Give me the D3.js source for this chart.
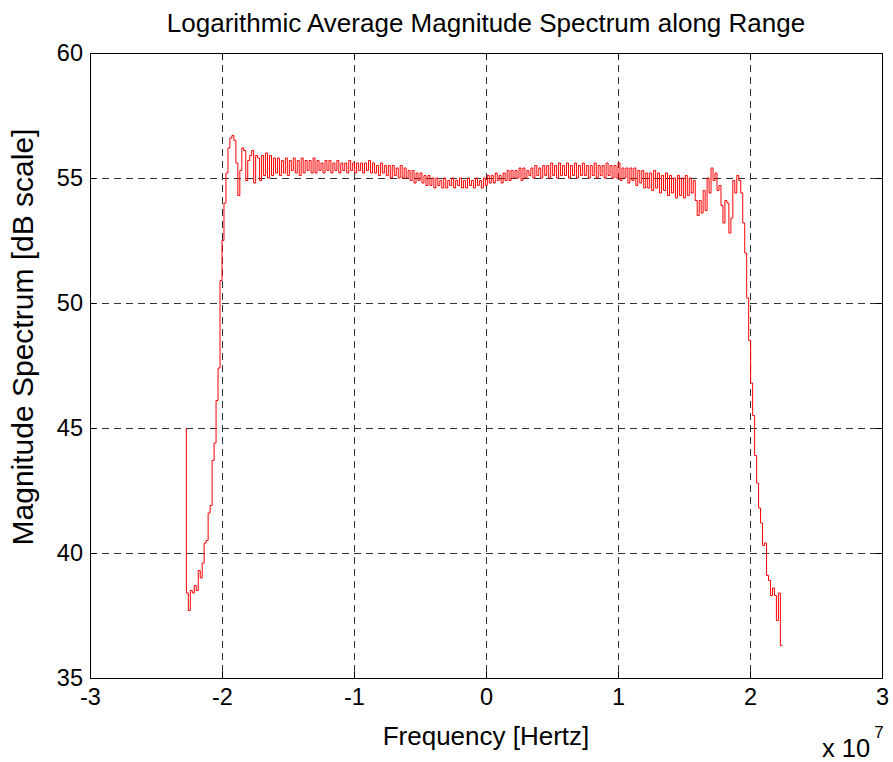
<!DOCTYPE html>
<html>
<head>
<meta charset="utf-8">
<script src="https://cdn.jsdelivr.net/npm/d3@7"></script>
<style>
  body { margin: 0; background: #fff; }
  text { font-family: "Liberation Sans", Arial, sans-serif; fill: #000; }
</style>
</head>
<body>
<script>
var width = 893, height = 762;

// frequency grid (Hz), evenly spaced
var freqStart = -2.27e7;
var freqStep = 0.015e7;

// magnitude spectrum values (dB)
var magnitude = [
  45.0, 38.4, 37.7, 38.5, 38.4, 38.7, 38.5, 39.3, 39.0, 39.6,
  40.4, 40.5, 41.6, 41.9, 43.7, 44.4, 46.1, 47.4, 50.9, 52.5,
  54.0, 55.2, 56.2, 56.6, 56.7, 56.5, 55.6, 54.3, 55.3, 56.2,
  56.1, 54.9, 55.7, 55.9, 56.1, 54.8, 55.9, 55.8, 54.9, 55.9,
  55.1, 56.0, 55.0, 55.9, 55.1, 55.8,
  55.2, 55.8, 55.1, 55.7, 55.2, 55.8, 55.1, 55.7, 55.3, 55.8,
  55.2, 55.7, 55.1, 55.8, 55.2, 55.7, 55.3, 55.7, 55.2, 55.8,
  55.2, 55.7, 55.3, 55.6, 55.2, 55.7, 55.3, 55.7, 55.2, 55.6,
  55.3, 55.7, 55.2, 55.6, 55.3, 55.6, 55.2, 55.7, 55.3, 55.6,
  55.2, 55.6, 55.3, 55.6, 55.2, 55.6, 55.3, 55.7, 55.2, 55.6,
  55.2, 55.5, 55.1, 55.6, 55.2, 55.5, 55.1, 55.5, 55.0, 55.5,
  55.1, 55.4, 55.0, 55.5, 55.0, 55.4, 55.0, 55.3, 54.9, 55.3,
  54.8, 55.2, 54.9, 55.2, 54.8, 55.1, 54.7, 55.1, 54.7, 55.0,
  54.6, 55.0, 54.7, 54.9, 54.6, 55.0, 54.6, 54.9, 54.7, 55.0,
  54.6, 54.9, 54.7, 55.0, 54.6, 54.9, 54.6, 55.0, 54.7, 54.9,
  54.6, 55.0, 54.7, 54.9, 54.6, 55.0, 54.7, 55.1, 54.8, 55.1,
  54.8, 55.2, 54.9, 55.1, 54.8, 55.2, 54.9, 55.3, 54.9, 55.3,
  55.0, 55.3, 55.0, 55.4, 54.9, 55.4, 55.0, 55.3, 55.1, 55.4,
  55.0, 55.5, 55.1, 55.4, 55.0, 55.5, 55.1, 55.5, 55.0, 55.6,
  55.1, 55.5, 55.0, 55.6, 55.1, 55.5, 55.1, 55.6, 55.0, 55.5,
  55.1, 55.6, 55.0, 55.5, 55.1, 55.6, 55.1, 55.5, 55.0, 55.5,
  55.1, 55.6, 55.0, 55.5, 55.1, 55.5, 55.0, 55.6, 55.1, 55.5,
  55.0, 55.5, 55.0, 55.6, 54.9, 55.4, 55.0, 55.4, 54.8, 55.4,
  54.9, 55.4, 54.7, 55.3, 54.8, 55.3, 54.6, 55.2, 54.6, 55.2,
  54.5, 55.3, 54.6, 55.2, 54.4, 55.1, 54.5, 55.2, 54.3, 55.1,
  54.4, 55.0, 54.2, 55.1, 54.3, 55.0, 54.2, 55.1, 54.3, 55.0, 54.4, 54.9,
  54.1, 53.5, 54.1, 53.6, 54.5, 53.7, 55.0, 54.4, 55.4, 54.9,
  55.2, 54.5, 54.7, 53.9, 53.2, 54.1, 54.0, 52.8, 53.4, 54.9,
  54.4, 55.1, 54.9, 54.4, 53.2, 52.0, 50.2, 48.5, 46.8, 45.5,
  43.9, 42.8, 41.8, 41.2, 40.3, 40.4, 39.1, 38.9, 38.3, 38.6,
  38.3, 37.3, 38.4, 36.3
];

var xTicks = [-3e7, -2e7, -1e7, 0, 1e7, 2e7, 3e7];
var xTickLabels = ["-3", "-2", "-1", "0", "1", "2", "3"];
var yTicks = [35, 40, 45, 50, 55, 60];

var points = magnitude.map(function(v, i) {
  return { f: freqStart + i * freqStep, m: v };
});

var margin = { left: 90, right: 11, top: 53, bottom: 84 };

var xScale = d3.scaleLinear()
  .domain([-3e7, 3e7])
  .range([margin.left, width - margin.right]);

var yScale = d3.scaleLinear()
  .domain([35, 60])
  .range([height - margin.bottom, margin.top]);

var svg = d3.select("body")
  .append("svg")
  .attr("width", width)
  .attr("height", height);

var x0 = xScale.range()[0], x1 = xScale.range()[1];
var y0 = yScale.range()[0], y1 = yScale.range()[1];

// grid
svg.append("g").selectAll("line")
  .data(xTicks.slice(1, -1))
  .enter().append("line")
  .attr("x1", function(d) { return Math.round(xScale(d)) + 0.5; })
  .attr("x2", function(d) { return Math.round(xScale(d)) + 0.5; })
  .attr("y1", y1).attr("y2", y0)
  .attr("stroke", "#333").attr("stroke-width", 1)
  .attr("stroke-dasharray", "7,5");

svg.append("g").selectAll("line")
  .data(yTicks.slice(1, -1))
  .enter().append("line")
  .attr("y1", function(d) { return Math.round(yScale(d)) + 0.5; })
  .attr("y2", function(d) { return Math.round(yScale(d)) + 0.5; })
  .attr("x1", x0).attr("x2", x1)
  .attr("stroke", "#333").attr("stroke-width", 1)
  .attr("stroke-dasharray", "7,5");

// spectrum line
var line = d3.line()
  .x(function(d) { return xScale(d.f); })
  .y(function(d) { return yScale(d.m); })
  .curve(d3.curveStepBefore);

svg.append("path")
  .datum(points)
  .attr("d", line)
  .attr("fill", "none")
  .attr("stroke", "#ff0000")
  .attr("stroke-width", 1);

// axes (ticks inside, MATLAB style)
var fmtX = function(d, i) { return xTickLabels[i]; };

svg.append("g")
  .attr("transform", "translate(0," + y0 + ")")
  .call(d3.axisBottom(xScale).tickValues(xTicks).tickFormat(fmtX).tickSizeInner(-6).tickSizeOuter(0).tickPadding(10))
  .call(function(g) {
    g.select(".domain").remove();
    g.selectAll("text").attr("font-size", 23.5).attr("font-family", "Liberation Sans, Arial, sans-serif");
  });

svg.append("g")
  .attr("transform", "translate(0," + y1 + ")")
  .call(d3.axisTop(xScale).tickValues(xTicks).tickFormat("").tickSizeInner(-6).tickSizeOuter(0))
  .call(function(g) { g.select(".domain").remove(); });

svg.append("g")
  .attr("transform", "translate(" + x0 + ",0)")
  .call(d3.axisLeft(yScale).tickValues(yTicks).tickSizeInner(-6).tickSizeOuter(0).tickPadding(7))
  .call(function(g) {
    g.select(".domain").remove();
    g.selectAll("text").attr("font-size", 23.5).attr("font-family", "Liberation Sans, Arial, sans-serif");
  });

svg.append("g")
  .attr("transform", "translate(" + x1 + ",0)")
  .call(d3.axisRight(yScale).tickValues(yTicks).tickFormat("").tickSizeInner(-6).tickSizeOuter(0))
  .call(function(g) { g.select(".domain").remove(); });

// box
svg.append("rect")
  .attr("x", x0 + 0.5).attr("y", y1 + 0.5)
  .attr("width", x1 - x0).attr("height", y0 - y1)
  .attr("fill", "none").attr("stroke", "#000").attr("stroke-width", 1);

// titles
svg.append("text")
  .attr("x", (x0 + x1) / 2).attr("y", 32)
  .attr("text-anchor", "middle")
  .attr("font-size", 26)
  .text("Logarithmic Average Magnitude Spectrum along Range");

svg.append("text")
  .attr("x", (x0 + x1) / 2).attr("y", 745)
  .attr("text-anchor", "middle")
  .attr("font-size", 26)
  .text("Frequency [Hertz]");

svg.append("text")
  .attr("transform", "translate(33," + 337 + ") rotate(-90)")
  .attr("text-anchor", "middle")
  .attr("font-size", 30)
  .text("Magnitude Spectrum [dB scale]");

var expo = svg.append("text")
  .attr("x", 822).attr("y", 757)
  .attr("font-size", 25.5);
expo.append("tspan").text("x 10");
expo.append("tspan").attr("dx", 4).attr("dy", -19).attr("font-size", 17).text("7");
</script>
</body>
</html>
